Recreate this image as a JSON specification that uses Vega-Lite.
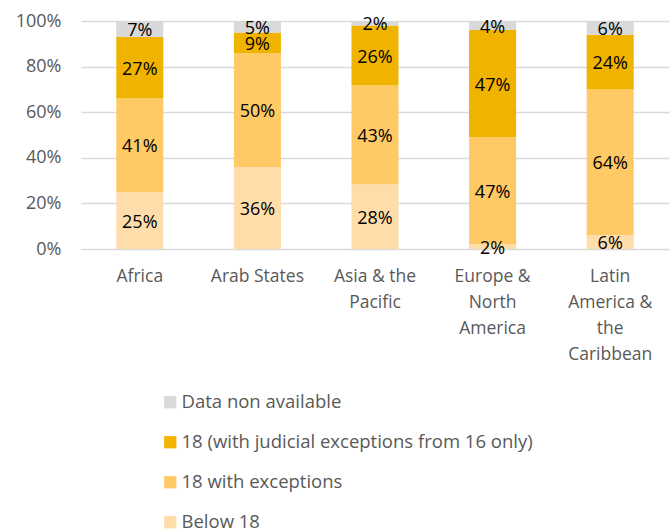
{
  "$schema": "https://vega.github.io/schema/vega-lite/v6.json",
  "width": 588,
  "height": 228,
  "autosize": {"type": "none"},
  "padding": {"left": 81, "top": 21, "right": 3, "bottom": 283},
  "background": "white",
  "config": {
    "view": {"stroke": null},
    "font": "Open Sans"
  },
  "data": {
    "values": [
      {"region": "Africa", "category": "Below 18", "rank": 1, "value": 25},
      {"region": "Africa", "category": "18 with exceptions", "rank": 2, "value": 41},
      {"region": "Africa", "category": "18 (with judicial exceptions from 16 only)", "rank": 3, "value": 27},
      {"region": "Africa", "category": "Data non available", "rank": 4, "value": 7},
      {"region": "Arab States", "category": "Below 18", "rank": 1, "value": 36},
      {"region": "Arab States", "category": "18 with exceptions", "rank": 2, "value": 50},
      {"region": "Arab States", "category": "18 (with judicial exceptions from 16 only)", "rank": 3, "value": 9},
      {"region": "Arab States", "category": "Data non available", "rank": 4, "value": 5},
      {"region": "Asia & the Pacific", "category": "Below 18", "rank": 1, "value": 28},
      {"region": "Asia & the Pacific", "category": "18 with exceptions", "rank": 2, "value": 43},
      {"region": "Asia & the Pacific", "category": "18 (with judicial exceptions from 16 only)", "rank": 3, "value": 26},
      {"region": "Asia & the Pacific", "category": "Data non available", "rank": 4, "value": 2},
      {"region": "Europe & North America", "category": "Below 18", "rank": 1, "value": 2},
      {"region": "Europe & North America", "category": "18 with exceptions", "rank": 2, "value": 47},
      {"region": "Europe & North America", "category": "18 (with judicial exceptions from 16 only)", "rank": 3, "value": 47},
      {"region": "Europe & North America", "category": "Data non available", "rank": 4, "value": 4},
      {"region": "Latin America & the Caribbean", "category": "Below 18", "rank": 1, "value": 6},
      {"region": "Latin America & the Caribbean", "category": "18 with exceptions", "rank": 2, "value": 64},
      {"region": "Latin America & the Caribbean", "category": "18 (with judicial exceptions from 16 only)", "rank": 3, "value": 24},
      {"region": "Latin America & the Caribbean", "category": "Data non available", "rank": 4, "value": 6}
    ]
  },
  "transform": [
    {"stack": "value", "groupby": ["region"], "sort": [{"field": "rank", "order": "ascending"}], "as": ["v0", "v1"], "offset": "normalize"},
    {"calculate": "(datum.v0 + datum.v1) / 2", "as": "vmid"},
    {"calculate": "datum.value + '%'", "as": "label"}
  ],
  "encoding": {
    "x": {
      "field": "region",
      "type": "nominal",
      "sort": null,
      "title": null,
      "scale": {"paddingInner": 0.6, "paddingOuter": 0.3},
      "axis": {
        "labelAngle": 0,
        "labelFontSize": 17.5,
        "labelColor": "#595959",
        "labelPadding": 27,
        "labelLineHeight": 26,
        "labelBaseline": "middle",
        "ticks": false,
        "domain": true,
        "domainColor": "#d9d9d9",
        "labelLimit": 200,
        "labelExpr": "datum.value == 'Asia & the Pacific' ? ['Asia & the', 'Pacific'] : datum.value == 'Europe & North America' ? ['Europe &', 'North', 'America'] : datum.value == 'Latin America & the Caribbean' ? ['Latin', 'America &', 'the', 'Caribbean'] : datum.value"
      }
    }
  },
  "layer": [
    {
      "mark": {"type": "bar"},
      "encoding": {
        "y": {
          "field": "v0",
          "type": "quantitative",
          "scale": {"domain": [0, 1]},
          "title": null,
          "axis": {
            "format": ".0%",
            "values": [0, 0.2, 0.4, 0.6, 0.8, 1],
            "labelFontSize": 18,
            "labelColor": "#595959",
            "labelPadding": 20,
            "ticks": false,
            "domain": false,
            "gridColor": "#d9d9d9",
            "gridWidth": 1.3
          }
        },
        "y2": {"field": "v1"},
        "color": {
          "field": "category",
          "type": "nominal",
          "scale": {
            "domain": ["Data non available", "18 (with judicial exceptions from 16 only)", "18 with exceptions", "Below 18"],
            "range": ["#d9d9d9", "#f0b400", "#ffc966", "#ffddaa"]
          },
          "legend": {
            "title": null,
            "orient": "none",
            "legendX": 80,
            "legendY": 372,
            "direction": "vertical",
            "symbolType": "square",
            "symbolSize": 150,
            "symbolStrokeWidth": 0,
            "labelFontSize": 18.5,
            "labelColor": "#595959",
            "rowPadding": 21,
            "labelOffset": 2,
            "labelLimit": 500
          }
        }
      }
    },
    {
      "mark": {"type": "text", "fontSize": 18, "color": "#000000", "baseline": "middle", "dy": 2},
      "encoding": {
        "y": {"field": "vmid", "type": "quantitative"},
        "text": {"field": "label", "type": "nominal"},
        "detail": {"field": "category"}
      }
    }
  ]
}
